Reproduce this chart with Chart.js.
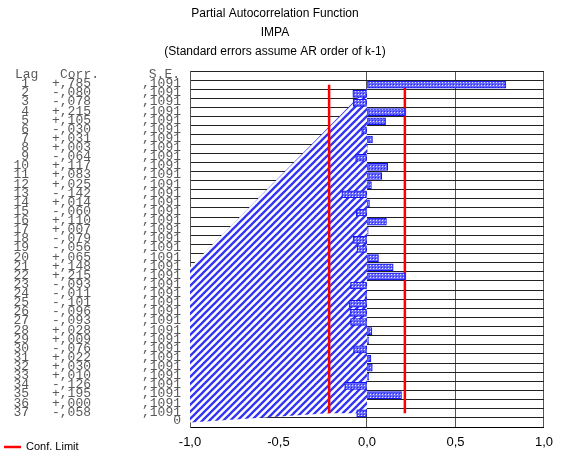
<!DOCTYPE html>
<html>
<head>
<meta charset="utf-8">
<script src="https://cdn.jsdelivr.net/npm/chart.js@4.4.1/dist/chart.umd.min.js"></script>
<style>
  html, body { margin: 0; padding: 0; background: #fff; }
  #wrap { width: 561px; height: 453px; position: relative; }
</style>
</head>
<body>
<div id="wrap"><canvas id="pacf"></canvas></div>
<script>
// Partial autocorrelations per lag
const lags = [1, 2, 3, 4, 5, 6, 7, 8, 9, 10, 11, 12, 13, 14, 15, 16, 17, 18, 19,
              20, 21, 22, 23, 24, 25, 26, 27, 28, 29, 30, 31, 32, 33, 34, 35, 36, 37];
const corr = [0.785, -0.080, -0.078, 0.215, 0.105, -0.030, 0.031, 0.003, -0.064, 0.117,
              0.083, 0.025, -0.142, 0.014, -0.060, 0.110, 0.007, -0.079, -0.056, 0.065,
              0.148, 0.215, -0.093, -0.011, -0.101, -0.096, -0.093, 0.028, 0.009, -0.076,
              0.022, 0.030, 0.010, -0.126, 0.195, 0.000, -0.058];
const stdErr = [0.1091, 0.1091, 0.1091, 0.1091, 0.1091, 0.1091, 0.1091, 0.1091, 0.1091, 0.1091,
                0.1091, 0.1091, 0.1091, 0.1091, 0.1091, 0.1091, 0.1091, 0.1091, 0.1091, 0.1091,
                0.1091, 0.1091, 0.1091, 0.1091, 0.1091, 0.1091, 0.1091, 0.1091, 0.1091, 0.1091,
                0.1091, 0.1091, 0.1091, 0.1091, 0.1091, 0.1091, 0.1091];
const confLimit = 0.214;
const xTicks = [-1, -0.5, 0, 0.5, 1];

// hatched background shape (corr value, lag)
const hatchX = [0, -1, -1, -0.22, 0];
const hatchLag = [1.4, 21, 38, 37, 37];

const titleLines = ['Partial Autocorrelation Function', 'IMPA', '(Standard errors assume AR order of k-1)'];

function fmtCorr(v) {
    const s = Math.round(Math.abs(v) * 1000).toString().padStart(3, '0');
    return (v < 0 ? '-' : '+') + ',' + s;
}
function fmtSE(v) {
    return ',' + Math.round(v * 10000).toString();
}

function makeBarPattern() {
    const c = document.createElement('canvas');
    c.width = 3; c.height = 3;
    const g = c.getContext('2d');
    g.fillStyle = '#6a6aff';
    g.fillRect(0, 0, 3, 3);
    g.fillStyle = '#e4e6ff';
    g.fillRect(1, 1, 1, 1);
    g.fillStyle = '#2a2aff';
    g.fillRect(0, 0, 1, 1);
    return g.createPattern(c, 'repeat');
}

function makeHatchPattern() {
    const s = 7;
    const c = document.createElement('canvas');
    c.width = s; c.height = s;
    const g = c.getContext('2d');
    g.fillStyle = '#fff';
    g.fillRect(0, 0, s, s);
    g.strokeStyle = '#3434f4';
    g.lineWidth = 2.3;
    g.beginPath();
    g.moveTo(0, s); g.lineTo(s, 0);
    g.moveTo(-2, 2); g.lineTo(2, -2);
    g.moveTo(s - 2, s + 2); g.lineTo(s + 2, s - 2);
    g.stroke();
    return g.createPattern(c, 'repeat');
}

// table of lag / corr / s.e. and the titles, positioned from the y scale
const printout = {
    id: 'printout',
    afterDraw(chart) {
        const ctx = chart.ctx;
        const y = chart.scales.y;
        ctx.save();
        ctx.fillStyle = '#000';
        ctx.font = '12px "Liberation Sans", Arial, sans-serif';
        ctx.textAlign = 'center';
        ctx.textBaseline = 'middle';
        titleLines.forEach((t, i) => ctx.fillText(t, 275, 14 + i * 19));

        ctx.fillStyle = '#5a5a5a';
        ctx.font = '13px "Liberation Mono", "DejaVu Sans Mono", monospace';
        const top = y.getPixelForValue(0) - 1;
        ctx.textAlign = 'left';
        ctx.fillText('Lag', 15, top);
        ctx.fillText('Corr.', 60, top);
        ctx.textAlign = 'right';
        ctx.fillText('S.E.', 180, top);
        lags.forEach((lag, i) => {
            const py = y.getPixelForValue(lag) - 1;
            ctx.textAlign = 'right';
            ctx.fillText(String(lag), 29, py);
            ctx.textAlign = 'left';
            ctx.fillText(fmtCorr(corr[i]), 52, py);
            ctx.textAlign = 'right';
            ctx.fillText(fmtSE(stdErr[i]), 181, py);
        });
        ctx.fillText('0', 181, y.getPixelForValue(38) - 2);

        // legend
        ctx.strokeStyle = '#ff0000';
        ctx.lineWidth = 2.5;
        ctx.beginPath();
        ctx.moveTo(4, 447); ctx.lineTo(21, 447);
        ctx.stroke();
        ctx.fillStyle = '#000';
        ctx.font = '11px "Liberation Sans", Arial, sans-serif';
        ctx.textAlign = 'left';
        ctx.fillText('Conf. Limit', 26, 447);
        ctx.restore();
    }
};

const barData = lags.map((lag, i) => ({ x: corr[i], y: lag }));
const hatchData = hatchX.map((x, i) => ({ x: x, y: hatchLag[i] }));
const lowerData = [{ x: -confLimit, y: lags[0] }, { x: -confLimit, y: lags[lags.length - 1] }];
const upperData = [{ x: confLimit, y: lags[0] }, { x: confLimit, y: lags[lags.length - 1] }];

new Chart(document.getElementById('pacf'), {
    type: 'bar',
    data: {
        datasets: [
            {
                label: 'PACF',
                data: barData,
                backgroundColor: makeBarPattern(),
                borderColor: '#1414f0',
                borderWidth: 1,
                borderSkipped: false,
                barThickness: 7,
                order: 0
            },
            {
                type: 'line',
                label: 'Conf. Limit',
                data: lowerData,
                borderColor: '#ff0000',
                borderWidth: 2.5,
                pointRadius: 0,
                fill: false,
                order: 1
            },
            {
                type: 'line',
                label: 'Conf. Limit upper',
                data: upperData,
                borderColor: '#ff0000',
                borderWidth: 2.5,
                pointRadius: 0,
                fill: false,
                order: 1
            },
            {
                type: 'line',
                label: 'area',
                data: hatchData,
                borderWidth: 0,
                borderColor: 'rgba(0,0,0,0)',
                backgroundColor: makeHatchPattern(),
                pointRadius: 0,
                tension: 0,
                fill: 'shape',
                order: 2
            }
        ]
    },
    options: {
        indexAxis: 'y',
        responsive: true,
        maintainAspectRatio: false,
        animation: false,
        events: [],
        layout: { padding: { left: 190, right: 15, top: 71, bottom: 0 } },
        plugins: {
            legend: { display: false },
            tooltip: { enabled: false },
            title: { display: false }
        },
        scales: {
            x: {
                type: 'linear',
                min: -1,
                max: 1,
                afterBuildTicks: (axis) => { axis.ticks = xTicks.map(v => ({ value: v })); },
                afterFit: (axis) => { axis.height = 26; },
                grid: {
                    drawTicks: false,
                    color: (c) => (c.tick && c.tick.value === -0.5) ? 'rgba(0,0,0,0)' : '#555',
                    lineWidth: 1
                },
                border: { color: '#000', width: 1 },
                ticks: {
                    padding: 8,
                    color: '#000',
                    font: { family: '"Liberation Sans", Arial, sans-serif', size: 13 },
                    callback: (v) => v.toFixed(1).replace('.', ',')
                }
            },
            y: {
                type: 'linear',
                min: 0,
                max: 38,
                reverse: true,
                ticks: { display: false, stepSize: 1 },
                grid: { drawTicks: false, color: '#222', lineWidth: 1 },
                border: { color: '#555', width: 1 }
            }
        }
    },
    plugins: [printout]
});
</script>
</body>
</html>
